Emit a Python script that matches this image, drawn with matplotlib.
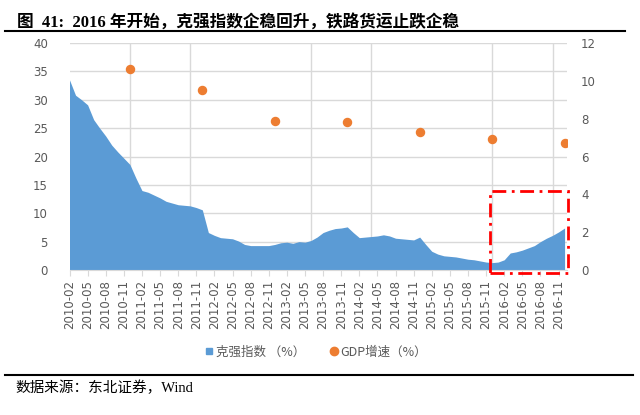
import numpy as np
import pandas as pd
import matplotlib
matplotlib.use('Agg')
import matplotlib.pyplot as plt
from matplotlib.lines import Line2D
from matplotlib.patches import Rectangle

plt.rcParams['font.family'] = ['DejaVu Sans', 'Noto Sans CJK SC']

# monthly categories 2010-02 .. 2016-12
months = [str(p) for p in pd.period_range('2010-02', '2016-12', freq='M')]

# Keqiang index (%)
keqiang = [33.5, 30.8, 30.0, 29.1, 26.5, 25.0, 23.6, 22.0, 20.8, 19.7,
           18.6, 16.2, 14.0, 13.7, 13.2, 12.7, 12.1, 11.8, 11.5, 11.4,
           11.3, 11.0, 10.6, 6.6, 6.1, 5.7, 5.6, 5.5, 5.1, 4.5,
           4.3, 4.3, 4.3, 4.3, 4.5, 4.8, 4.9, 4.7, 5.0, 4.9,
           5.2, 5.8, 6.6, 7.0, 7.3, 7.4, 7.6, 6.6, 5.7, 5.8,
           5.9, 6.0, 6.2, 6.0, 5.6, 5.5, 5.4, 5.3, 5.8, 4.5,
           3.3, 2.8, 2.5, 2.4, 2.3, 2.1, 1.9, 1.8, 1.6, 1.4,
           1.3, 1.4, 1.8, 3.0, 3.2, 3.5, 3.9, 4.3, 5.0, 5.6,
           6.1, 6.7, 7.4]

# annual GDP growth (%), placed at December
gdp_months = ['2010-12', '2011-12', '2012-12', '2013-12', '2014-12', '2015-12', '2016-12']
gdp = [10.6, 9.5, 7.9, 7.8, 7.3, 6.9, 6.7]

title = '图  41:  2016 年开始，克强指数企稳回升，铁路货运止跌企稳'
source = '数据来源：东北证券，Wind'
label_kq = '克强指数 （%）'
label_gdp = 'GDP增速（%）'

blue = '#5B9BD5'
orange = '#ED7D31'
grey = '#595959'
grid_c = '#D9D9D9'

x = np.arange(len(months))
x_gdp = [months.index(m) for m in gdp_months]

fig = plt.figure(figsize=(6.4, 4.15), dpi=100)
ax = fig.add_axes([69.5/640, 1-270/415, (567-69.5)/640, 227/415])
ax.fill_between(x, keqiang, 0, color=blue, lw=0, zorder=2)
ax.set_xlim(0, 82.4)
ax.set_ylim(0, 40)
ax.set_yticks(np.arange(0, 41, 5))
ax.set_xticks(x[::3])
ax.set_xticklabels(months[::3], rotation=90)
ax.set_xticks(np.arange(0, 83, 10), minor=True)
ax.tick_params(axis='x', which='minor', length=0)
ax.tick_params(axis='x', which='major', length=4, color=grid_c, labelsize=8.5, labelcolor=grey, pad=3)
ax.tick_params(axis='y', length=0, labelsize=8.5, labelcolor=grey, pad=15.5)
ax.grid(which='major', axis='y', color=grid_c, lw=1)
ax.grid(which='minor', axis='x', color=grid_c, lw=1)
ax.set_axisbelow(True)
for s in ['top', 'right', 'left']:
    ax.spines[s].set_visible(False)
ax.spines['bottom'].set_color(grid_c)

ax2 = ax.twinx()
ax2.plot(x_gdp, gdp, linestyle='None', marker='o', markersize=5.8, color=orange, zorder=3)
ax2.set_ylim(0, 12)
ax2.set_yticks(np.arange(0, 13, 2))
ax2.tick_params(axis='y', length=0, labelsize=8.5, labelcolor=grey, pad=10)
for s in ['top', 'right', 'left', 'bottom']:
    ax2.spines[s].set_visible(False)

# red dash-dot box around 2016
box = Rectangle((69.7, -0.5), 12.9, 14.4, fill=False, ec='#FF0000', lw=2,
                linestyle=(0, (5, 2, 1, 2)), clip_on=False, zorder=5)
ax.add_patch(box)

# legend
handles = [Line2D([], [], linestyle='None', marker='s', markersize=4, color=blue),
           Line2D([], [], linestyle='None', marker='o', markersize=6, color=orange)]
leg = fig.legend(handles, [label_kq, label_gdp], loc='center', bbox_to_anchor=(0.495, 1-352/415),
                 ncol=2, frameon=False, handlelength=0.5, handletextpad=0.3, columnspacing=2.0,
                 prop={'family': ['Noto Sans CJK SC'], 'size': 9})
for t in leg.get_texts():
    t.set_color(grey)

# title, rules and source
fig.text(17/640, 1-22/415, title, fontsize=12, fontweight='bold', va='center', ha='left',
         family=['Liberation Serif', 'Noto Sans CJK SC'])
fig.add_artist(Line2D([5/640, 625/640], [1-31/415, 1-31/415], color='black', lw=1.5))
fig.add_artist(Line2D([5/640, 633/640], [1-375/415, 1-375/415], color='black', lw=1.5))
fig.text(15/640, 1-388/415, source, fontsize=10.5, va='center', ha='left',
         family=['Liberation Serif', 'Noto Sans CJK SC'])

fig.savefig('out.png', dpi=100)
